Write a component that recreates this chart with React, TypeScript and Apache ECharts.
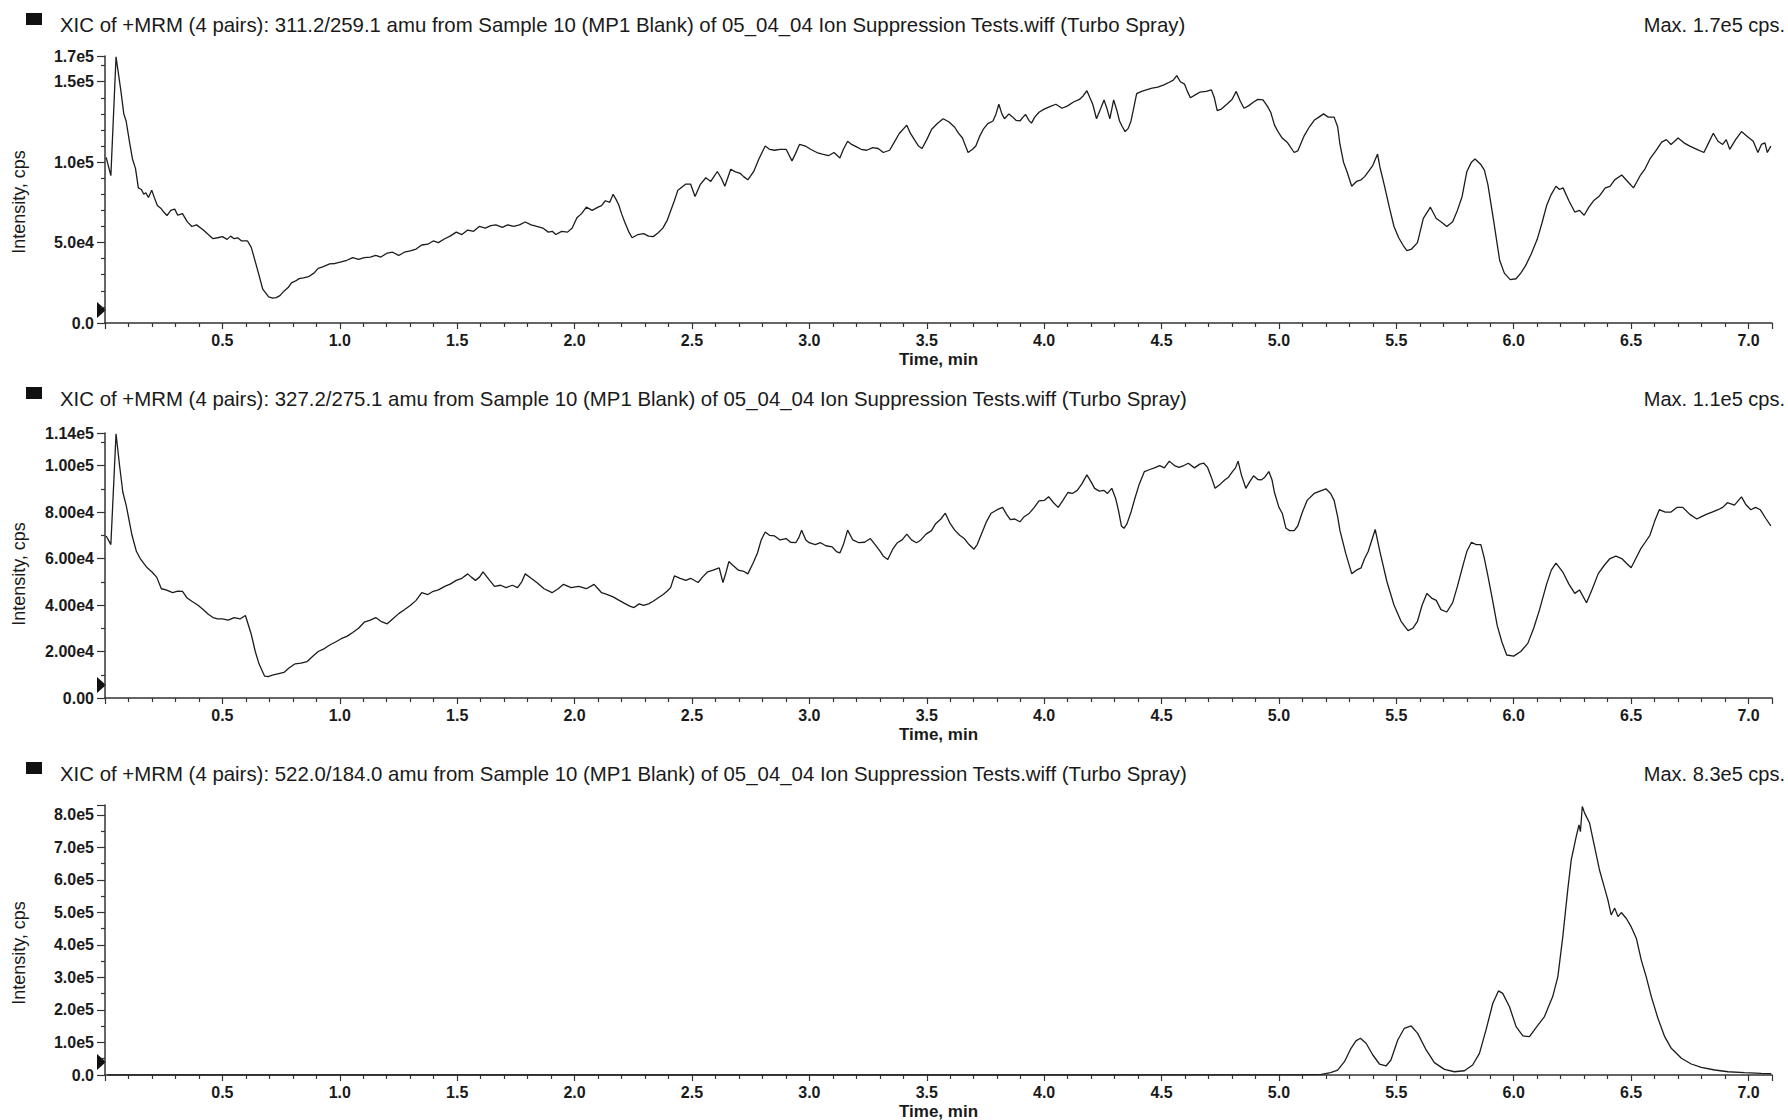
import React, { useEffect, useRef } from "react";
import * as echarts from "echarts";

const FONT = '"Liberation Sans", Arial, Helvetica, sans-serif';

// ---------- text ----------
const panelTitles = [
  "XIC of +MRM (4 pairs): 311.2/259.1 amu from Sample 10 (MP1 Blank) of 05_04_04 Ion Suppression Tests.wiff (Turbo Spray)",
  "XIC of +MRM (4 pairs): 327.2/275.1 amu from Sample 10 (MP1 Blank) of 05_04_04 Ion Suppression Tests.wiff (Turbo Spray)",
  "XIC of +MRM (4 pairs): 522.0/184.0 amu from Sample 10 (MP1 Blank) of 05_04_04 Ion Suppression Tests.wiff (Turbo Spray)",
];
const maxLabels = ["Max. 1.7e5 cps.", "Max. 1.1e5 cps.", "Max. 8.3e5 cps."];
const xAxisName = "Time, min";
const yAxisName = "Intensity, cps";

// ---------- axis scales ----------
const xMin = 0;
const xMax = 7.1;
const xInterval = 0.5;
const yMaxes = [166000, 114000, 830000];
const yIntervals = [50000, 20000, 100000];
const yMinorSplits = [5, 2, 2];
const yDecimals = [1, 2, 1];
const yShowTopLabel = [true, true, false];

// ---------- data: [time (min), intensity (thousand cps)] ----------
const xic311: [number, number][] = [
  [0.005,103],[0.025,91.6],[0.047,165.5],[0.068,144],[0.08,130],[0.09,125.6],[0.105,112],[0.117,102],[0.13,96],[0.142,84],[0.155,83],[0.165,80],[0.174,81],[0.185,78],[0.199,82.6],[0.21,78],[0.223,73],[0.24,71],[0.25,69],[0.264,66.8],[0.28,70],[0.297,70.8],[0.31,67],[0.33,68],[0.35,63],[0.37,60],[0.39,61],[0.419,57.8],[0.44,55],[0.46,52.4],[0.48,53],[0.5,53.7],[0.52,52],[0.535,54],[0.55,52.4],[0.565,53],[0.582,51],[0.607,51],[0.623,47],[0.648,34],[0.672,21],[0.697,16.3],[0.715,15.5],[0.729,15.8],[0.745,17],[0.762,19.8],[0.78,22],[0.794,25],[0.81,26],[0.827,27.6],[0.845,28],[0.868,28.9],[0.89,31],[0.908,34],[0.93,35],[0.957,36.7],[0.98,37],[1.006,38],[1.03,39],[1.055,40.7],[1.08,39.5],[1.104,40.7],[1.13,41],[1.153,42],[1.175,41],[1.202,43.5],[1.225,44],[1.251,42],[1.275,44],[1.3,44.8],[1.325,46],[1.349,48.5],[1.375,49],[1.398,51],[1.42,50],[1.447,52.4],[1.47,54],[1.496,56.5],[1.52,55],[1.545,57.8],[1.57,57],[1.594,60],[1.62,59],[1.643,60.5],[1.665,61],[1.692,59.5],[1.715,61],[1.741,60],[1.765,61],[1.79,62.8],[1.815,61],[1.839,60],[1.865,59],[1.888,56.5],[1.905,57],[1.92,55],[1.945,57],[1.97,56.5],[1.99,59],[2.01,65.5],[2.03,68],[2.05,72],[2.075,70],[2.1,72],[2.115,73],[2.131,76],[2.15,75],[2.164,80],[2.176,77],[2.188,73.5],[2.2,68],[2.213,63],[2.23,57],[2.245,53],[2.27,55],[2.294,55.6],[2.315,54],[2.335,53.7],[2.355,56],[2.376,59],[2.395,64],[2.409,69.6],[2.425,76],[2.44,82.6],[2.474,86.4],[2.494,86.4],[2.513,78.6],[2.535,86],[2.559,90.3],[2.58,88],[2.608,94.2],[2.625,90],[2.64,85],[2.665,95.6],[2.685,94],[2.706,93],[2.72,91],[2.738,89],[2.763,94.2],[2.785,102],[2.812,110],[2.83,108],[2.852,107.4],[2.875,108],[2.901,108],[2.926,100.8],[2.94,105],[2.958,111],[2.983,110],[3.005,108],[3.032,106],[3.055,105],[3.081,104],[3.105,106],[3.13,102.6],[3.145,108],[3.163,113],[3.18,111],[3.195,110],[3.22,108],[3.244,107.4],[3.27,109],[3.293,108.5],[3.315,106],[3.342,107.4],[3.36,112],[3.383,117.8],[3.415,123],[3.43,118],[3.448,113.8],[3.465,110],[3.48,108.5],[3.5,114],[3.521,120.5],[3.545,124],[3.57,127],[3.595,125],[3.619,121.7],[3.635,118],[3.652,115],[3.676,106],[3.695,108],[3.709,110],[3.725,116],[3.741,120.5],[3.76,124],[3.782,125.6],[3.795,130],[3.807,136],[3.82,130],[3.831,127],[3.85,130],[3.864,128.3],[3.88,126],[3.897,125.6],[3.91,128],[3.921,129.6],[3.935,126],[3.946,124.3],[3.96,128],[3.978,131],[4.0,133],[4.027,134.7],[4.05,136],[4.076,133.5],[4.1,135],[4.125,137.4],[4.15,139],[4.165,141],[4.182,144.4],[4.195,140],[4.207,136],[4.223,127],[4.24,133],[4.255,138.7],[4.268,133],[4.28,127],[4.296,138.7],[4.31,132],[4.321,125.6],[4.333,122],[4.345,119],[4.358,121],[4.37,125.6],[4.382,134],[4.394,142.6],[4.415,144],[4.435,145],[4.46,146],[4.484,146.6],[4.51,148],[4.533,149.7],[4.55,151],[4.565,153.8],[4.58,150],[4.598,148.5],[4.61,144],[4.623,140],[4.645,142],[4.663,143.5],[4.69,144],[4.712,145],[4.725,140],[4.737,132],[4.755,133],[4.778,136],[4.8,139],[4.818,144],[4.835,138],[4.851,133.5],[4.87,135],[4.892,137.4],[4.91,139],[4.932,138.7],[4.95,135],[4.965,131],[4.981,123],[5.0,118],[5.014,115],[5.037,112],[5.065,106],[5.08,107],[5.108,116.5],[5.13,122],[5.15,126],[5.17,128],[5.19,130],[5.21,128],[5.235,128],[5.25,122],[5.26,111],[5.275,100],[5.29,94],[5.31,85],[5.33,88],[5.35,89],[5.365,91],[5.38,94],[5.4,98],[5.42,105],[5.43,97],[5.45,85],[5.47,72],[5.49,60],[5.51,53],[5.53,48],[5.545,45],[5.565,46],[5.59,50],[5.615,65],[5.645,72],[5.67,65],[5.69,63],[5.715,60],[5.74,63],[5.76,70],[5.78,78.5],[5.8,94],[5.82,100],[5.835,102],[5.86,98.5],[5.875,95],[5.89,86],[5.915,63],[5.94,39],[5.96,31],[5.985,27],[6.01,27.5],[6.03,31],[6.05,35.5],[6.075,43],[6.1,52],[6.12,62],[6.14,73],[6.16,80],[6.18,85],[6.195,83],[6.21,84],[6.235,76],[6.26,69],[6.28,70],[6.3,67],[6.32,72],[6.34,76],[6.365,79],[6.39,84],[6.41,85],[6.43,89],[6.46,92],[6.485,88],[6.51,84],[6.525,88],[6.54,92],[6.56,96],[6.58,102],[6.605,107],[6.63,112.5],[6.65,114],[6.67,111],[6.685,113],[6.7,115],[6.725,112],[6.75,110],[6.78,108],[6.81,106],[6.83,112],[6.85,118],[6.87,113],[6.89,111],[6.905,114],[6.92,108],[6.945,114],[6.97,119],[6.995,116],[7.02,113],[7.04,106],[7.055,111],[7.07,112],[7.08,106],[7.095,110],
];

const xic327: [number, number][] = [
  [0.005,69.7],[0.025,66],[0.047,113.7],[0.062,100],[0.076,88.5],[0.09,83],[0.1,77.8],[0.115,70],[0.134,63],[0.15,60],[0.166,57.8],[0.18,56],[0.199,54.3],[0.22,52],[0.24,47],[0.26,46.5],[0.288,45.3],[0.31,46],[0.33,45.9],[0.35,43],[0.37,41.6],[0.395,40],[0.419,38],[0.44,36],[0.46,34.6],[0.48,34],[0.5,34],[0.525,33.5],[0.55,34.6],[0.575,34],[0.598,35.5],[0.623,27.4],[0.64,20],[0.656,14.7],[0.68,9.4],[0.695,9.2],[0.713,9.8],[0.74,10.5],[0.762,11],[0.785,13],[0.81,14.7],[0.835,15],[0.86,15.6],[0.885,18],[0.908,20],[0.93,21],[0.957,22.8],[0.98,24],[1.006,25.5],[1.03,26.5],[1.055,28.2],[1.08,30],[1.104,32.6],[1.13,33.5],[1.153,34.6],[1.175,33],[1.202,31.9],[1.225,34],[1.251,36.3],[1.275,38],[1.3,39.8],[1.325,42],[1.349,45.3],[1.375,44.5],[1.398,45.9],[1.42,46.5],[1.447,48],[1.47,49],[1.496,50.6],[1.52,51.5],[1.545,53.4],[1.56,52],[1.578,50.6],[1.595,52],[1.61,54.3],[1.635,51],[1.659,48],[1.685,48.5],[1.708,47.5],[1.735,48.5],[1.757,47.5],[1.775,50],[1.79,53.4],[1.815,51.5],[1.839,49.7],[1.87,47],[1.904,45.3],[1.93,47],[1.953,48.9],[1.985,47.5],[2.018,48],[2.05,47],[2.083,48.9],[2.1,47],[2.115,45.3],[2.14,44.5],[2.164,43.5],[2.19,42],[2.213,40.7],[2.235,39.5],[2.253,38.9],[2.275,40.5],[2.294,39.8],[2.315,40.5],[2.335,41.6],[2.355,43],[2.376,44.4],[2.395,46],[2.409,47.5],[2.425,52.5],[2.45,51.5],[2.474,50.6],[2.494,51.5],[2.526,49.7],[2.545,52],[2.567,54.3],[2.59,55],[2.616,56],[2.632,49.7],[2.645,54],[2.657,58.7],[2.675,57],[2.698,55],[2.72,54.5],[2.738,53.4],[2.76,58],[2.779,62.4],[2.795,68],[2.812,71.4],[2.83,70],[2.852,69.7],[2.875,68],[2.901,68.6],[2.92,67],[2.942,66.8],[2.955,69],[2.967,72.2],[2.985,68],[2.999,66.8],[3.025,66],[3.048,66.8],[3.07,65.5],[3.097,65],[3.115,63],[3.13,62.4],[3.145,66],[3.163,72.2],[3.185,68],[3.211,66.8],[3.235,67],[3.26,68.6],[3.28,66],[3.301,63.2],[3.315,61],[3.334,59.6],[3.355,64],[3.375,66.8],[3.395,68],[3.415,70.5],[3.435,68],[3.456,66.8],[3.475,68],[3.497,70.5],[3.52,72],[3.538,75],[3.56,77],[3.579,79.5],[3.6,75],[3.619,72.2],[3.64,70],[3.66,68.6],[3.68,66],[3.701,64],[3.715,66],[3.733,70.5],[3.755,76],[3.774,79.5],[3.8,81],[3.823,82],[3.84,79],[3.856,76.7],[3.875,77],[3.897,75.8],[3.915,78],[3.937,79.5],[3.958,82],[3.978,84.8],[4.0,85],[4.019,86.6],[4.04,84],[4.06,82],[4.08,85],[4.101,88.4],[4.12,88],[4.141,89.3],[4.16,92],[4.182,96],[4.2,93],[4.215,90.2],[4.235,89],[4.255,89.3],[4.27,88],[4.288,90.2],[4.305,85.7],[4.318,80],[4.329,74],[4.34,73],[4.353,75],[4.37,80],[4.386,85.7],[4.405,92],[4.427,97.4],[4.45,98.3],[4.47,99],[4.492,100],[4.512,99],[4.533,101.9],[4.555,100],[4.574,99.2],[4.595,100],[4.614,101],[4.64,99],[4.663,100.6],[4.68,101],[4.696,99.2],[4.712,95],[4.728,90.2],[4.75,92],[4.769,93.8],[4.785,95],[4.802,97.4],[4.815,99],[4.826,101.9],[4.84,96],[4.859,90.2],[4.875,93],[4.892,95.6],[4.91,94],[4.924,93.8],[4.94,95],[4.957,97.4],[4.97,94],[4.981,88.4],[5.0,82],[5.014,79.5],[5.03,73],[5.046,72],[5.065,72],[5.08,74],[5.1,80],[5.12,85],[5.15,88],[5.175,89],[5.2,90],[5.22,88],[5.235,85],[5.25,78],[5.26,72],[5.285,62],[5.31,53.5],[5.33,55],[5.35,56],[5.365,60],[5.38,63],[5.41,72.5],[5.43,63],[5.46,50],[5.49,40],[5.52,33],[5.55,29],[5.57,30],[5.59,33],[5.61,40],[5.63,45],[5.65,43],[5.67,42],[5.69,38],[5.715,37],[5.74,41],[5.76,48],[5.785,57.5],[5.8,63],[5.82,67],[5.84,66],[5.86,66],[5.875,60],[5.89,52.5],[5.91,42],[5.93,31],[5.95,24],[5.97,18.5],[6.0,18],[6.03,20],[6.06,23.5],[6.085,30],[6.11,38],[6.14,49],[6.16,55],[6.18,58],[6.21,54],[6.235,49],[6.26,45],[6.28,46.5],[6.31,41],[6.335,47],[6.36,53.5],[6.385,57],[6.41,60],[6.435,61],[6.46,60],[6.48,58],[6.5,56],[6.52,60],[6.54,64],[6.56,67],[6.58,70],[6.6,76],[6.62,81],[6.645,80],[6.67,80],[6.695,82],[6.72,82],[6.75,79],[6.78,77],[6.8,78],[6.82,79],[6.845,80],[6.87,81],[6.89,82],[6.91,84],[6.94,83],[6.97,86.5],[6.99,83],[7.01,81],[7.03,82],[7.05,81],[7.075,77],[7.095,74],
];

const xic522: [number, number][] = [
  [0.01,0],[1.0,0],[2.0,0],[3.0,0],[4.0,0],[5.0,0.3],[5.1,0.5],[5.18,2],[5.22,7],[5.25,15],[5.279,41],[5.307,82],[5.328,105],[5.347,113],[5.371,97.5],[5.4,61.5],[5.428,33.8],[5.456,27.7],[5.477,46],[5.506,107.7],[5.534,143.6],[5.563,150.8],[5.591,128],[5.627,77],[5.662,38],[5.705,17.4],[5.747,10],[5.79,13],[5.825,30.8],[5.854,66.7],[5.882,138.5],[5.911,220.5],[5.935,258.5],[5.953,251],[5.982,210],[6.01,148.6],[6.039,120],[6.067,117.8],[6.096,146.7],[6.131,179.5],[6.166,241],[6.188,302.5],[6.209,425.5],[6.23,569],[6.245,661.5],[6.266,733],[6.278,769],[6.284,748],[6.292,825.6],[6.302,805],[6.323,774.5],[6.344,702.5],[6.365,631],[6.387,574.5],[6.401,538.5],[6.415,492],[6.43,513],[6.444,487],[6.458,499.4],[6.479,482],[6.5,456],[6.522,420.6],[6.543,354],[6.564,302.5],[6.586,241],[6.614,174.5],[6.643,117.8],[6.671,82],[6.714,51.4],[6.756,33.8],[6.799,23.6],[6.856,15.4],[6.913,10],[6.983,7],[7.054,5],[7.097,4],
];

const seriesData = [xic311, xic327, xic522];

// ---------- layout (pixels) ----------
const GRID_LEFT = 105;
const GRID_WIDTH = 1667;
const panels = [
  { top: 56, height: 267, titleY: 25, nameY: 202 },
  { top: 433, height: 265, titleY: 399, nameY: 574 },
  { top: 805, height: 270, titleY: 774, nameY: 953 },
];

const AXIS_COLOR = "#333";
const TEXT_COLOR = "#1a1a1a";

function fmtSci(v: number, d: number): string {
  if (v === 0) return (0).toFixed(d);
  return v.toExponential(d).replace("e+", "e");
}

export default function App() {
  const ref = useRef<HTMLDivElement>(null);

  useEffect(() => {
    if (!ref.current) return;
    const chart = echarts.init(ref.current, undefined, { renderer: "svg" });

    const grid = panels.map((p) => ({
      left: GRID_LEFT,
      top: p.top,
      width: GRID_WIDTH,
      height: p.height,
      containLabel: false,
      outerBoundsMode: "none",
    }));

    const xAxis = panels.map((_, i) => ({
      type: "value",
      gridIndex: i,
      min: xMin,
      max: xMax,
      interval: xInterval,
      axisLine: { show: true, onZero: false, lineStyle: { color: AXIS_COLOR, width: 1.5 } },
      axisTick: { show: true, length: 6, lineStyle: { color: AXIS_COLOR, width: 1.2 } },
      minorTick: { show: true, splitNumber: 5, length: 4, lineStyle: { color: AXIS_COLOR, width: 1.2 } },
      splitLine: { show: false },
      axisLabel: {
        margin: 9,
        fontFamily: FONT,
        fontSize: 16,
        fontWeight: "bold",
        color: TEXT_COLOR,
        formatter: (v: number) => {
          const k = v / xInterval;
          return v > 0.001 && Math.abs(k - Math.round(k)) < 1e-6 ? v.toFixed(1) : "";
        },
      },
      name: xAxisName,
      nameLocation: "middle",
      nameGap: 28,
      nameTextStyle: { fontFamily: FONT, fontSize: 17, fontWeight: "bold", color: TEXT_COLOR },
    }));

    const yAxis = panels.map((_, i) => ({
      type: "value",
      gridIndex: i,
      min: 0,
      max: yMaxes[i],
      interval: yIntervals[i],
      axisLine: { show: true, onZero: false, lineStyle: { color: AXIS_COLOR, width: 1.5 } },
      axisTick: { show: true, length: 8, lineStyle: { color: AXIS_COLOR, width: 1.2 } },
      minorTick: { show: true, splitNumber: yMinorSplits[i], length: 4, lineStyle: { color: AXIS_COLOR, width: 1.2 } },
      splitLine: { show: false },
      axisLabel: {
        margin: 11,
        fontFamily: FONT,
        fontSize: 16,
        fontWeight: "bold",
        color: TEXT_COLOR,
        formatter: (v: number) => {
          const onTick = Math.abs(v / yIntervals[i] - Math.round(v / yIntervals[i])) < 1e-9;
          if (!onTick && !yShowTopLabel[i]) return "";
          return fmtSci(v, yDecimals[i]);
        },
      },
    }));

    const series = seriesData.map((pts, i) => ({
      type: "line",
      xAxisIndex: i,
      yAxisIndex: i,
      data: pts.map(([t, k]) => [t, k * 1000]),
      showSymbol: false,
      symbol: "none",
      silent: true,
      lineStyle: { color: "#1c1c1c", width: 1.3 },
    }));

    const graphic: any[] = [];
    panels.forEach((p, i) => {
      graphic.push({
        type: "rect",
        shape: { x: 26, y: p.titleY - 12, width: 16, height: 12 },
        style: { fill: "#111" },
      });
      graphic.push({
        type: "text",
        x: 60,
        y: p.titleY,
        style: {
          text: panelTitles[i],
          font: `20.4px ${FONT}`,
          fill: TEXT_COLOR,
          align: "left",
          textAlign: "left",
          verticalAlign: "middle",
          textVerticalAlign: "middle",
        },
      });
      graphic.push({
        type: "text",
        x: 1785,
        y: p.titleY,
        style: {
          text: maxLabels[i],
          font: `20px ${FONT}`,
          fill: TEXT_COLOR,
          align: "right",
          textAlign: "right",
          verticalAlign: "middle",
          textVerticalAlign: "middle",
        },
      });
      const base = p.top + p.height;
      graphic.push({
        type: "polygon",
        shape: { points: [[97, base - 21], [106, base - 13], [97, base - 5]] },
        style: { fill: "#111" },
      });
      graphic.push({
        type: "text",
        x: 19,
        y: p.nameY,
        rotation: Math.PI / 2,
        style: {
          text: yAxisName,
          font: `18px ${FONT}`,
          fill: TEXT_COLOR,
          align: "center",
          textAlign: "center",
          verticalAlign: "middle",
          textVerticalAlign: "middle",
        },
      });
    });

    chart.setOption({
      animation: false,
      backgroundColor: "#ffffff",
      grid,
      xAxis,
      yAxis,
      series,
      graphic,
    } as any);

    return () => chart.dispose();
  }, []);

  return (
    <div
      ref={ref}
      style={{ position: "absolute", left: 0, top: 0, width: 1788, height: 1120, background: "#fff" }}
    />
  );
}
